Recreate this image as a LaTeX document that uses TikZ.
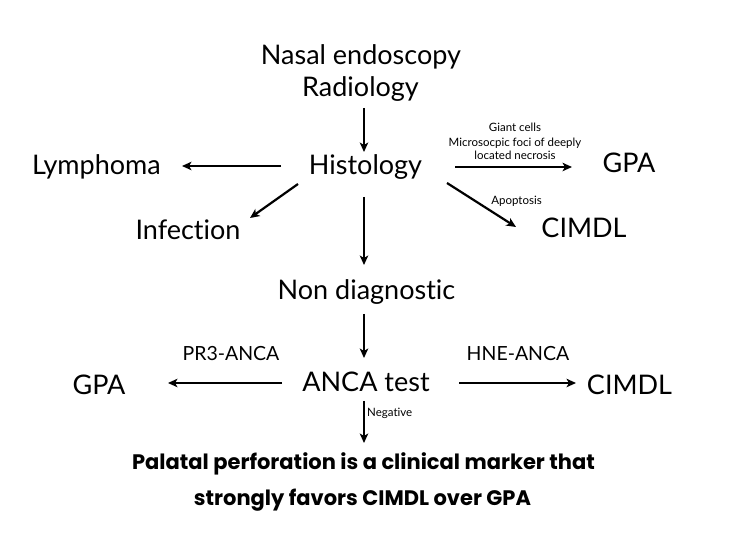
\documentclass[tikz,border=0pt]{standalone}
\usepackage{fontspec}
\setmainfont{Lato}[Ligatures=NoCommon]
\newfontfamily\heavyfont{Poppins}[Ligatures=NoCommon]
\usetikzlibrary{arrows.meta,calc}
\begin{document}
\begin{tikzpicture}[x=1pt,y=1pt,
  big/.style={font=\fontsize{27}{30}\selectfont, inner sep=0pt, anchor=base},
  mid/.style={font=\fontsize{19.5}{22}\selectfont, inner sep=0pt, anchor=base},
  small/.style={font=\fontsize{11.5}{14}\selectfont, inner sep=0pt, anchor=base},
  boldtxt/.style={font=\heavyfont\bfseries\fontsize{21}{24}\selectfont, inner sep=0pt, anchor=base},
  arr/.style={line width=2.2pt, -{Stealth[length=9.5pt,width=8.5pt,inset=2.5pt]}}]
\useasboundingbox (0,0) rectangle (737,-534);
\fill[white] (0,0) rectangle (737,-534);
% main nodes
\node[big] (nasal) at (361,-65) {Nasal endoscopy};
\node[big] (rad) at (360.5,-97) {Radiology};
\node[big] (hist) at (365.5,-175) {Histology};
\node[big] (lymph) at (96.5,-175) {Lymphoma};
\node[big] (infect) at (188,-240) {Infection};
\node[big] (gpaA) at (629,-173) {GPA};
\node[big] (cimdlA) at (584,-238) {CIMDL};
\node[big] (nondiag) at (366.5,-300) {Non diagnostic};
\node[big] (anca) at (366,-392) {ANCA test};
\node[big] (gpaB) at (99,-395) {GPA};
\node[big] (cimdlB) at (629.5,-395) {CIMDL};
\node[mid] (pr3) at (231,-361) {PR3-ANCA};
\node[mid] (hne) at (518,-361) {HNE-ANCA};
\node[small] (giant) at (515,-132) {Giant cells};
\node[small] (micro) at (515,-147) {Microsocpic foci of deeply};
\node[small] (located) at (515,-160) {located necrosis};
\node[small] (apop) at (516.5,-205) {Apoptosis};
\node[small, anchor=base west] (neg) at (367,-417) {Negative};
\node[boldtxt] (bold1) at (363.5,-470) {Palatal perforation is a clinical marker that};
\node[boldtxt] (bold2) at (362.5,-506) {strongly favors CIMDL over GPA};
% connectors
\draw[arr] ($(rad.base)+(3.5,-11)$) -- ($(hist.base)+(-1.5,23)$);
\draw[arr] ($(hist.base)+(-84.5,9)$) -- ($(lymph.base)+(85.5,9)$);
\draw[arr] ($(hist.base)+(-67.5,-9)$) -- ($(infect.base)+(62,22)$);
\draw[arr] ($(hist.base)+(-1.5,-22)$) -- ($(nondiag.base)+(-2.5,35)$);
\draw[arr] ($(hist.base)+(89.5,8)$) -- ($(gpaA.base)+(-57,6)$);
\draw[arr] ($(hist.base)+(81.5,-8)$) -- ($(cimdlA.base)+(-68,11)$);
\draw[arr] ($(nondiag.base)+(-2.5,-14)$) -- ($(anca.base)+(-2,34)$);
\draw[arr] ($(anca.base)+(-84,9)$) -- ($(gpaB.base)+(69,12)$);
\draw[arr] ($(anca.base)+(93,9)$) -- ($(cimdlB.base)+(-53.5,12)$);
\draw[arr] ($(anca.base)+(-2,-9)$) -- ($(bold1.base)+(0.5,27)$);
\end{tikzpicture}
\end{document}
